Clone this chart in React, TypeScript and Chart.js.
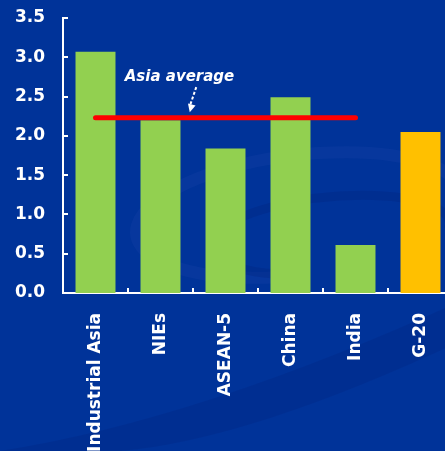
import React, { useEffect, useRef } from "react";
import { Chart, registerables } from "chart.js";

Chart.register(...registerables);

const categories = ["Industrial Asia", "NIEs", "ASEAN-5", "China", "India", "G-20"];
const values = [3.07, 2.2, 1.84, 2.49, 0.61, 2.05];
const barColors = ["#92D050", "#92D050", "#92D050", "#92D050", "#92D050", "#FFC000"];
const asiaAverage = 2.23;
const averageLine = [asiaAverage, asiaAverage, asiaAverage, asiaAverage, asiaAverage, null];
const averageLabel = "Asia average";
const yMin = 0;
const yMax = 3.5;
const yStep = 0.5;

const BG = "#003399";

const backgroundPlugin = {
  id: "bgSwoosh",
  beforeDraw(chart: any) {
    const { ctx, width, height } = chart;
    ctx.save();
    ctx.fillStyle = BG;
    ctx.fillRect(0, 0, width, height);
    ctx.strokeStyle = "rgba(70,100,200,0.10)";
    ctx.lineWidth = 12;
    ctx.beginPath();
    ctx.ellipse(300, 215, 165, 60, -0.12, Math.PI * 0.55, Math.PI * 2.1);
    ctx.stroke();
    ctx.strokeStyle = "rgba(0,30,120,0.25)";
    ctx.lineWidth = 9;
    ctx.beginPath();
    ctx.ellipse(330, 235, 120, 38, -0.1, Math.PI * 0.6, Math.PI * 2.05);
    ctx.stroke();
    ctx.fillStyle = "rgba(0,30,120,0.22)";
    ctx.beginPath();
    ctx.moveTo(0, 451);
    ctx.quadraticCurveTo(200, 420, 463, 300);
    ctx.lineTo(463, 340);
    ctx.quadraticCurveTo(250, 440, 120, 451);
    ctx.closePath();
    ctx.fill();
    ctx.restore();
  },
};

const axisTicksPlugin = {
  id: "innerTicks",
  afterDraw(chart: any) {
    const { ctx } = chart;
    const x = chart.scales.x;
    const y = chart.scales.y;
    ctx.save();
    ctx.strokeStyle = "#ffffff";
    ctx.lineWidth = 2;
    for (let v = yMin; v <= yMax + 1e-9; v += yStep) {
      const py = Math.round(y.getPixelForValue(v));
      ctx.beginPath();
      ctx.moveTo(x.left, py);
      ctx.lineTo(x.left + 5, py);
      ctx.stroke();
    }
    const step = x.getPixelForValue(1) - x.getPixelForValue(0);
    for (let i = 0; i < categories.length - 1; i++) {
      const px = Math.round(x.getPixelForValue(i) + step / 2);
      ctx.beginPath();
      ctx.moveTo(px, y.bottom);
      ctx.lineTo(px, y.bottom - 5);
      ctx.stroke();
    }
    const tx = x.getPixelForValue(0.45);
    const ty = y.getPixelForValue(2.75);
    ctx.fillStyle = "#ffffff";
    ctx.font = "italic bold 15px 'DejaVu Sans'";
    ctx.textAlign = "left";
    ctx.textBaseline = "middle";
    ctx.fillText(averageLabel, tx, ty);
    const ax1 = x.getPixelForValue(1.55);
    const ay1 = y.getPixelForValue(2.62);
    const ax2 = x.getPixelForValue(1.45);
    const ay2 = y.getPixelForValue(2.3);
    ctx.strokeStyle = "#ffffff";
    ctx.lineWidth = 2;
    ctx.setLineDash([3, 2]);
    ctx.beginPath();
    ctx.moveTo(ax1, ay1);
    ctx.lineTo(ax2, ay2 - 6);
    ctx.stroke();
    ctx.setLineDash([]);
    const ang = Math.atan2(ay2 - ay1, ax2 - ax1);
    ctx.beginPath();
    ctx.moveTo(ax2, ay2);
    ctx.lineTo(ax2 - 9 * Math.cos(ang - 0.45), ay2 - 9 * Math.sin(ang - 0.45));
    ctx.lineTo(ax2 - 9 * Math.cos(ang + 0.45), ay2 - 9 * Math.sin(ang + 0.45));
    ctx.closePath();
    ctx.fill();
    ctx.restore();
  },
};

export default function App() {
  const ref = useRef<HTMLCanvasElement | null>(null);
  useEffect(() => {
    if (!ref.current) return;
    const chart = new Chart(ref.current, {
      type: "bar",
      data: {
        labels: categories,
        datasets: [
          {
            type: "line",
            data: averageLine as any,
            borderColor: "#FF0000",
            borderWidth: 5,
            borderCapStyle: "round",
            pointRadius: 0,
            fill: false,
            order: 0,
          } as any,
          {
            type: "bar",
            data: values,
            backgroundColor: barColors,
            borderWidth: 0,
            barPercentage: 0.615,
            categoryPercentage: 1,
            order: 1,
          },
        ],
      },
      options: {
        responsive: false,
        animation: false,
        layout: { padding: { top: 18, right: 10, left: 0, bottom: 0 } },
        plugins: { legend: { display: false }, tooltip: { enabled: false } },
        scales: {
          x: {
            offset: true,
            grid: { display: false, drawTicks: false },
            border: { display: true, color: "#ffffff", width: 2 },
            ticks: {
              color: "#ffffff",
              font: { family: "'DejaVu Sans'", size: 17, weight: "bold" },
              maxRotation: 90,
              minRotation: 90,
              padding: 20,
              autoSkip: false,
            },
            afterFit(scale: any) {
              scale.height = 158;
              scale.paddingTop = 0;
              scale.paddingBottom = 0;
            },
          },
          y: {
            min: yMin,
            max: yMax,
            grid: { display: false, drawTicks: false },
            border: { display: true, color: "#ffffff", width: 2 },
            ticks: {
              stepSize: yStep,
              color: "#ffffff",
              font: { family: "'DejaVu Sans'", size: 17, weight: "bold" },
              padding: 18,
              callback: (v: any) => Number(v).toFixed(1),
            },
            afterFit(scale: any) {
              scale.width = 63;
              scale.paddingTop = 0;
              scale.paddingBottom = 0;
            },
          },
        },
      },
      plugins: [backgroundPlugin, axisTicksPlugin],
    });
    return () => chart.destroy();
  }, []);
  return (
    <div style={{ position: "fixed", left: 0, top: 0, width: 445, height: 451, overflow: "hidden", background: BG }}>
      <canvas ref={ref} width={463} height={451} style={{ display: "block" }} />
    </div>
  );
}
